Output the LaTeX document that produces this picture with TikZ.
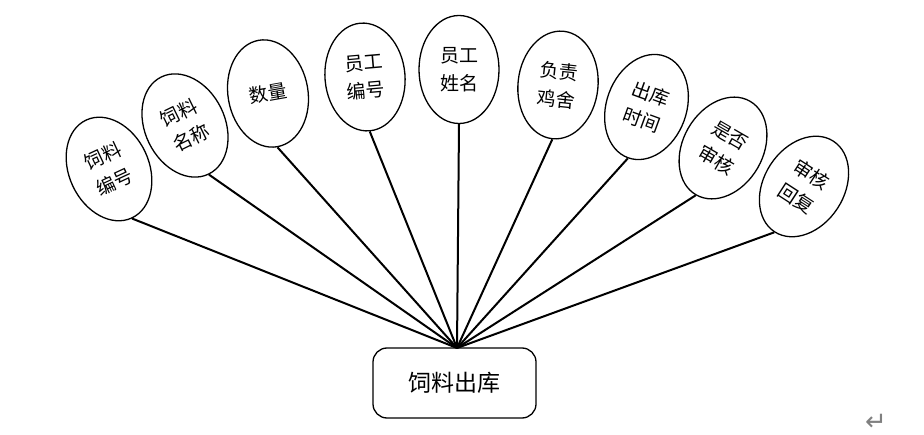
\documentclass[tikz,border=0pt]{standalone}
\usepackage{fontspec}
\newfontfamily\cjk{Noto Sans CJK SC}
\newfontfamily\dejavu{DejaVu Sans}
\usetikzlibrary{shapes.geometric}
\tikzset{
  attr/.style={ellipse, draw, line width=1.3pt, minimum width=80pt, minimum height=108pt,
    inner sep=0pt, align=center, font=\cjk\fontsize{19}{28}\selectfont},
  entity/.style={rectangle, rounded corners=14pt, draw, line width=1.3pt,
    minimum width=163pt, minimum height=70pt, inner sep=0pt, font=\cjk\fontsize{23}{28}\selectfont},
  conn/.style={line width=2pt}
}
\begin{document}
\begin{tikzpicture}[x=1pt,y=-1pt]
\useasboundingbox (0,0) rectangle (924,435);
\node[entity] (box) at (454.5,383) {饲料出库};
\coordinate (hub) at (457,348);
\node[attr, rotate=25] (e1) at (109,169) {饲料\\编号};
\node[attr, rotate=26] (e2) at (185,125.5) {饲料\\名称};
\node[attr, rotate=10] (e3) at (268,93.5) {数量};
\node[attr, rotate=5] (e4) at (365,77) {员工\\编号};
\node[attr, rotate=0] (e5) at (459,69.5) {员工\\姓名};
\node[attr, rotate=-6] (e6) at (558,85) {负责\\鸡舍};
\node[attr, rotate=-20] (e7) at (646.5,107) {出库\\时间};
\node[attr, rotate=-30] (e8) at (723,148) {是否\\审核};
\node[attr, rotate=-33] (e9) at (804,186.5) {审核\\回复};
\foreach \e in {e1,e2,e3,e4,e5,e6,e7,e8,e9}
  \draw[conn] (hub) -- (\e.south);
\node[text=gray, font=\dejavu\fontsize{26}{26}\selectfont, inner sep=0pt] (pm) at (876,422) {↵};
\end{tikzpicture}
\end{document}
